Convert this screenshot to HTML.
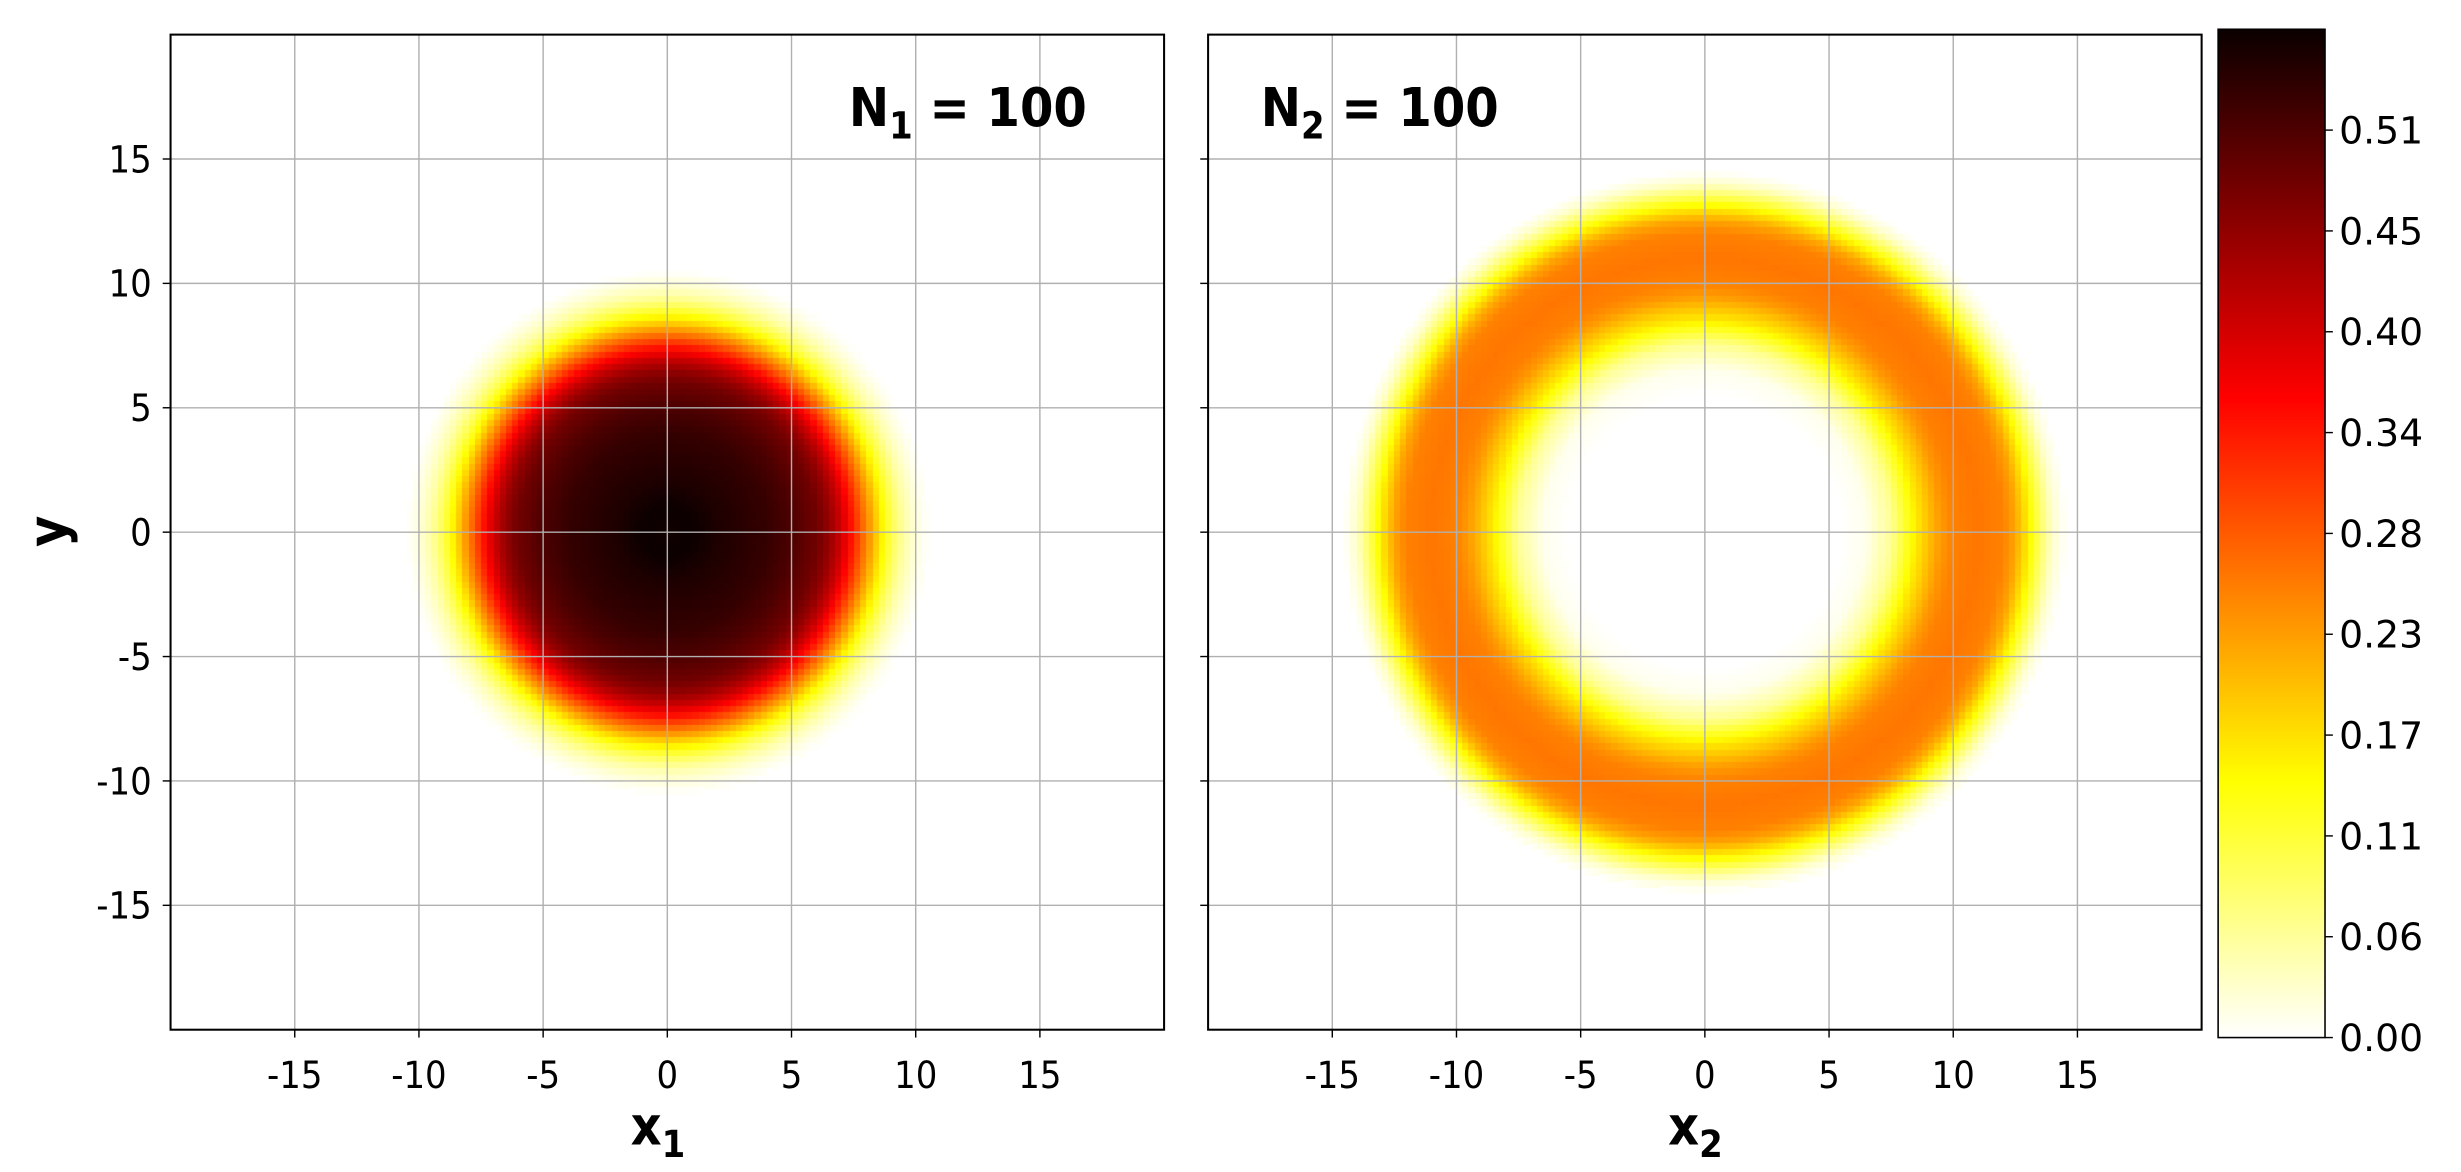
<!DOCTYPE html>
<html><head><meta charset="utf-8"><style>
html,body{margin:0;padding:0;background:#fff;}
#wrap{position:relative;width:2461px;height:1172px;overflow:hidden;}
canvas{position:absolute;}
svg{position:absolute;left:0;top:0;}
text{font-family:"DejaVu Sans","Liberation Sans",sans-serif;}
.cond{font-family:"DejaVu Sans Condensed","DejaVu Sans","Liberation Sans",sans-serif;}
</style></head><body>
<div id="wrap">
<canvas id="c1"></canvas>
<canvas id="c2"></canvas>
<canvas id="cb"></canvas>
<svg id="s" width="2461" height="1172" viewBox="0 0 1565.5 745.5"></svg>
</div>
<script>
// data
const radiiLeft = [0, 1, 2, 4, 5, 6, 6.5, 7, 7.5, 8, 8.5, 9, 9.5, 10, 10.5];
const valuesLeft = [0.56, 0.565, 0.55, 0.53, 0.51, 0.48, 0.45, 0.40, 0.33, 0.25, 0.17, 0.10, 0.05, 0.02, 0];
const radiiRight = [0, 5.5, 6.5, 7.5, 8.5, 9.5, 10, 11, 12, 12.5, 13, 13.5, 14, 14.5];
const valuesRight = [0, 0, 0.01, 0.06, 0.16, 0.23, 0.25, 0.26, 0.25, 0.22, 0.16, 0.09, 0.03, 0];
const axisTicks = [-15, -10, -5, 0, 5, 10, 15];
const cbarTickLabels = ["0.00","0.06","0.11","0.17","0.23","0.28","0.34","0.40","0.45","0.51"];
const vmax = 0.5656;

const S = 2461/1565.5;
const T = 22, B = 655;
const panels = [{x0:108.5, x1:740.5, id:'c1', r:radiiLeft, v:valuesLeft, title:'N', sub:'1', tx:540, xl:'1'},
                {x0:768.5, x1:1400.5, id:'c2', r:radiiRight, v:valuesRight, title:'N', sub:'2', tx:802, xl:'2'}];
function interp(rs, vs, r){
  if (r <= rs[0]) return vs[0];
  for (let i=1;i<rs.length;i++){ if (r<=rs[i]) { const f=(r-rs[i-1])/(rs[i]-rs[i-1]); return vs[i-1]+f*(vs[i]-vs[i-1]); } }
  return vs[vs.length-1];
}
function hotR(v){
  const t = 1 - Math.max(0, Math.min(1, v/vmax));
  const r = Math.min(1, 0.0416 + t/0.365*0.9584);
  const g = Math.max(0, Math.min(1, (t-0.365)/0.381));
  const b = Math.max(0, Math.min(1, (t-0.746)/0.254));
  return `rgb(${Math.round(r*255)},${Math.round(g*255)},${Math.round(b*255)})`;
}
const svg = document.getElementById('s');
const NS = 'http://www.w3.org/2000/svg';
function el(tag, attrs, parent){ const e=document.createElementNS(NS,tag); for(const k in attrs) e.setAttribute(k,attrs[k]); (parent||svg).appendChild(e); return e; }

panels.forEach((p, pi) => {
  const sx = v => p.x0 + (v+20)/40*(p.x1-p.x0);
  const sy = v => T + (20-v)/40*(B-T);
  const c = document.getElementById(p.id);
  const L = Math.round(p.x0*S), Tp = Math.round(T*S), W = Math.round((p.x1-p.x0)*S), H = Math.round((B-T)*S);
  c.style.left = L+'px'; c.style.top = Tp+'px'; c.width = W; c.height = H;
  const ctx = c.getContext('2d');
  const n = 160, d = 40/n;
  for (let i=0;i<n;i++) for (let j=0;j<n;j++){
    const x = -20 + (i+0.5)*d, y = 20 - (j+0.5)*d;
    const val = interp(p.r, p.v, Math.hypot(x, y));
    if (val <= 0.0005) continue;
    ctx.fillStyle = hotR(val);
    ctx.fillRect(Math.floor(i*W/n), Math.floor(j*H/n), Math.ceil(W/n)+1, Math.ceil(H/n)+1);
  }
  const g = el('g', { });
  axisTicks.forEach(t => {
    el('line',{x1:sx(t),x2:sx(t),y1:T,y2:B,stroke:'#b0b0b0','stroke-width':0.9,},g);
    el('line',{x1:p.x0,x2:p.x1,y1:sy(t),y2:sy(t),stroke:'#b0b0b0','stroke-width':0.9,},g);
    el('line',{x1:sx(t),x2:sx(t),y1:B,y2:B+5,stroke:'#000','stroke-width':0.9,},g);
    el('line',{x1:p.x0-5,x2:p.x0,y1:sy(t),y2:sy(t),stroke:'#000','stroke-width':0.9,},g);
    const tx = el('text',{x:sx(t),y:B+37,'font-size':24,'text-anchor':'middle','class':'cond',},g);
    tx.textContent = t;
    if (pi===0){
      const ty = el('text',{x:p.x0-12,y:sy(t)+8.5,'font-size':24,'text-anchor':'end','class':'cond',},g);
      ty.textContent = t;
    }
  });
  el('rect',{x:p.x0,y:T,width:p.x1-p.x0,height:B-T,fill:'none',stroke:'#000','stroke-width':1.3,},g);
  const tt = el('text',{x:p.tx,y:80,'font-size':34,'font-weight':'bold','class':'cond',},g);
  tt.innerHTML = p.title+'<tspan font-size="24" dy="8">'+p.sub+'</tspan><tspan dy="-8"> = 100</tspan>';
  const xl = el('text',{x:(p.x0+p.x1)/2-6,y:728,'font-size':34,'font-weight':'bold','text-anchor':'middle','class':'cond',},g);
  xl.innerHTML = 'x<tspan font-size="24" dy="8">'+p.xl+'</tspan>';
});
const yl = el('text',{x:0,y:0,'font-size':34,'font-weight':'bold','text-anchor':'middle','class':'cond',transform:'translate(42,338) rotate(-90)',});
yl.textContent = 'y';

const cbX0 = 1411, cbX1 = 1479, cbT = 18.6, cbB = 660;
const cb = document.getElementById('cb');
cb.style.left = Math.round(cbX0*S)+'px'; cb.style.top = Math.round(cbT*S)+'px';
cb.width = Math.round((cbX1-cbX0)*S); cb.height = Math.round((cbB-cbT)*S);
const cctx = cb.getContext('2d');
for (let y=0;y<cb.height;y++){ cctx.fillStyle = hotR(vmax*(1 - y/(cb.height-1))); cctx.fillRect(0,y,cb.width,1); }
el('rect',{x:cbX0,y:cbT,width:cbX1-cbX0,height:cbB-cbT,fill:'none',stroke:'#000','stroke-width':1,});
cbarTickLabels.forEach((lab, k) => {
  const y = cbB - (k*vmax/10)/vmax*(cbB-cbT);
  el('line',{x1:cbX1,x2:cbX1+5,y1:y,y2:y,stroke:'#000','stroke-width':0.9,});
  const t = el('text',{x:cbX1+9,y:y+8.5,'font-size':24,});
  t.textContent = lab;
});
</script>
</body></html>
